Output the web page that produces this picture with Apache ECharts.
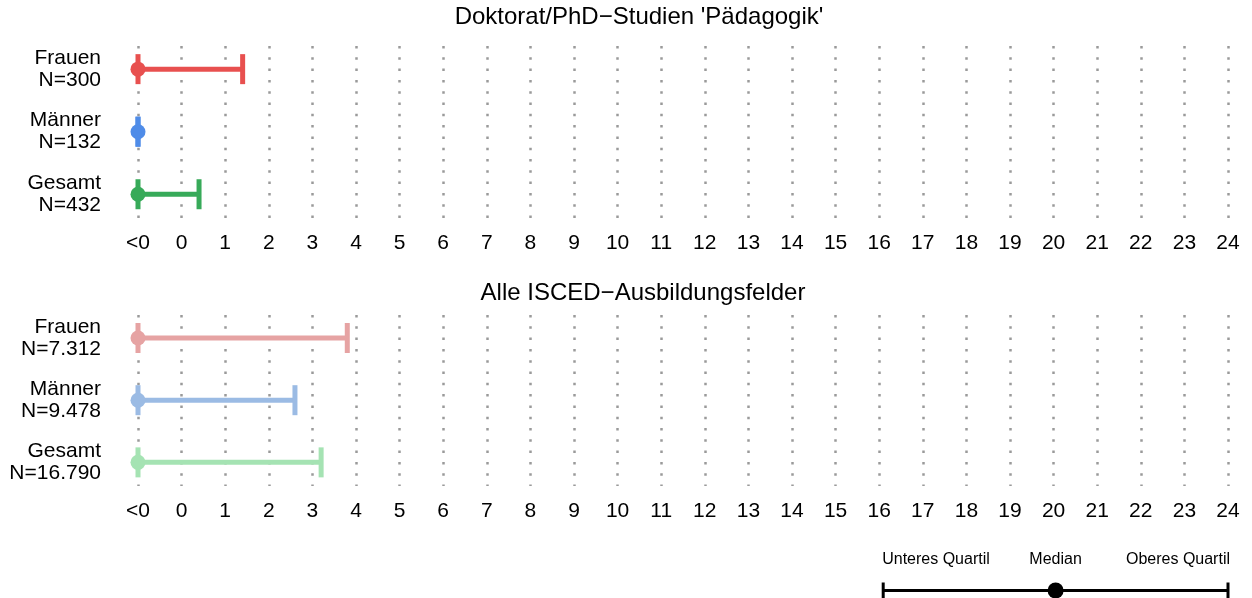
<!DOCTYPE html>
<html>
<head>
    <meta charset="utf-8">
    <title>Quartile</title>
    <script src="https://cdn.jsdelivr.net/npm/echarts@6/dist/echarts.min.js"></script>
    <style>
        *{ margin: 0; padding: 0; }
        html,body{ width: 100%; height: 100%; overflow: hidden; background: #fff; }
        #main{ width: 1252px; height: 598px; }
    </style>
</head>
<body>
<div id="main"></div>
<script>
    // Daten
    const titles = ["Doktorat/PhD\u2212Studien 'Pädagogik'", 'Alle ISCED\u2212Ausbildungsfelder'];
    const groups = ['Frauen', 'Männer', 'Gesamt'];
    const nPhd = ['300', '132', '432'];
    const nAll = ['7.312', '9.478', '16.790'];
    // -1 steht für "<0"
    const phdLower = [-1, -1, -1];
    const phdMedian = [-1, -1, -1];
    const phdUpper = [1.4, -1, 0.4];
    const allLower = [-1, -1, -1];
    const allMedian = [-1, -1, -1];
    const allUpper = [3.8, 2.6, 3.2];
    const keyLabels = ['Unteres Quartil', 'Median', 'Oberes Quartil'];
    const keyValues = [16, 20, 24];

    const colorsPhd = ['#e8504f', '#4f8ce8', '#37aa59'];
    const colorsAll = ['#e6a3a3', '#9bbbe4', '#a5e3b3'];
    const FONT = 'Liberation Sans, Arial, sans-serif';

    let myCharts = echarts.init(document.getElementById('main'));

    function rows(lower, median, upper){
        return groups.map((g, i) => [i + 1, lower[i], median[i], upper[i]]);
    }

    function barRenderer(colors, lw, capH){
        return function (params, api) {
            let y = api.value(0);
            let lo = api.coord([api.value(1), y]);
            let md = api.coord([api.value(2), y]);
            let hi = api.coord([api.value(3), y]);
            let c = colors[params.dataIndex];
            let st = {stroke: c, lineWidth: lw};
            return {
                type: 'group',
                children: [
                    {type: 'line', shape: {x1: lo[0], y1: lo[1], x2: hi[0], y2: hi[1]}, style: st},
                    {type: 'line', shape: {x1: lo[0], y1: lo[1] - capH, x2: lo[0], y2: lo[1] + capH}, style: st},
                    {type: 'line', shape: {x1: hi[0], y1: hi[1] - capH, x2: hi[0], y2: hi[1] + capH}, style: st},
                    {type: 'circle', shape: {cx: md[0], cy: md[1], r: 7.5}, style: {fill: c}}
                ]
            };
        };
    }

    function xAxisFor(idx, show){
        return {
            gridIndex: idx, type: 'value', min: -1, max: 24, interval: 1,
            axisLine: {show: false}, axisTick: {show: false},
            axisLabel: {
                show: show, fontSize: 21, color: '#000', fontFamily: FONT, margin: 15,
                formatter: v => v === -1 ? '<0' : String(v)
            },
            splitLine: {
                show: show,
                lineStyle: {color: '#9a9a9a', width: 2.5, type: [2.5, 8.8]}
            }
        };
    }

    function yAxisFor(idx, nList){
        return {
            gridIndex: idx, type: 'value', inverse: true, min: 0.63, max: 3.38,
            axisLine: {show: false}, axisTick: {show: false}, splitLine: {show: false},
            axisLabel: {
                customValues: [1, 2, 3],
                fontSize: 21, lineHeight: 22, color: '#000', fontFamily: FONT,
                align: 'right', margin: 37,
                formatter: v => groups[v - 1] + '\nN=' + nList[v - 1]
            }
        };
    }

    let option = {
        animation: false,
        backgroundColor: '#fff',
        title: [
            {text: titles[0], left: 634, top: 0, textAlign: 'center',
                textStyle: {fontSize: 24, fontWeight: 'normal', color: '#000', fontFamily: FONT}},
            {text: titles[1], left: 638, top: 276, textAlign: 'center',
                textStyle: {fontSize: 24, fontWeight: 'normal', color: '#000', fontFamily: FONT}}
        ],
        grid: [
            {left: 138, right: 24, top: 46, height: 172},
            {left: 138, right: 24, top: 315, height: 171},
            {left: 138, right: 24, top: 583, height: 16}
        ],
        xAxis: [xAxisFor(0, true), xAxisFor(1, true), xAxisFor(2, false)],
        yAxis: [
            yAxisFor(0, nPhd),
            yAxisFor(1, nAll),
            {gridIndex: 2, type: 'value', min: 0, max: 1, show: false}
        ],
        series: [
            {
                type: 'custom', xAxisIndex: 0, yAxisIndex: 0,
                renderItem: barRenderer(colorsPhd, 5, 15),
                encode: {x: [1, 2, 3], y: 0},
                data: rows(phdLower, phdMedian, phdUpper)
            },
            {
                type: 'custom', xAxisIndex: 1, yAxisIndex: 1,
                renderItem: barRenderer(colorsAll, 5, 15),
                encode: {x: [1, 2, 3], y: 0},
                data: rows(allLower, allMedian, allUpper)
            },
            {
                // Legende
                type: 'custom', xAxisIndex: 2, yAxisIndex: 2,
                encode: {x: [1, 2, 3], y: 0},
                data: [[0.5, keyValues[0], keyValues[1], keyValues[2]]],
                renderItem: function (params, api) {
                    let y = api.value(0);
                    let lo = api.coord([api.value(1), y]);
                    let md = api.coord([api.value(2), y]);
                    let hi = api.coord([api.value(3), y]);
                    let st = {stroke: '#000', lineWidth: 3};
                    let ts = {fill: '#000', fontSize: 16, fontFamily: FONT, verticalAlign: 'middle'};
                    return {
                        type: 'group',
                        children: [
                            {type: 'line', shape: {x1: lo[0] + 4, y1: lo[1], x2: hi[0], y2: hi[1]}, style: st},
                            {type: 'line', shape: {x1: lo[0] + 4, y1: lo[1] - 8, x2: lo[0] + 4, y2: lo[1] + 8}, style: st},
                            {type: 'line', shape: {x1: hi[0], y1: hi[1] - 8, x2: hi[0], y2: hi[1] + 8}, style: st},
                            {type: 'circle', shape: {cx: md[0] + 2, cy: md[1], r: 8}, style: {fill: '#000'}},
                            {type: 'text', style: Object.assign({text: keyLabels[0], x: lo[0] + 3, y: lo[1] - 31, align: 'left'}, ts)},
                            {type: 'text', style: Object.assign({text: keyLabels[1], x: md[0] + 2, y: md[1] - 31, align: 'center'}, ts)},
                            {type: 'text', style: Object.assign({text: keyLabels[2], x: hi[0] + 2, y: hi[1] - 31, align: 'right'}, ts)}
                        ]
                    };
                }
            }
        ]
    };
    myCharts.setOption(option);
</script>
</body>
</html>
